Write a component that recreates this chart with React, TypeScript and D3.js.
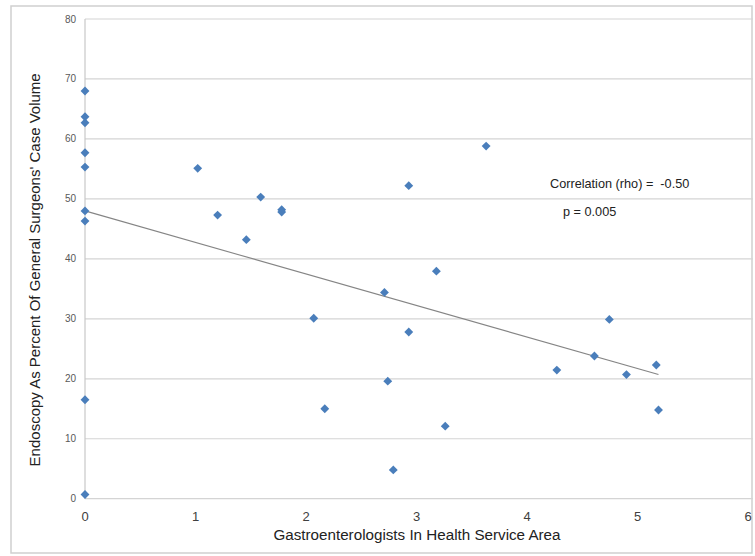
import React from "react";
import * as d3 from "d3";

const xValues = [0, 0, 0, 0, 0, 0, 0, 0, 0, 1.02, 1.2, 1.46, 1.59, 1.78, 1.78, 2.07, 2.17, 2.71, 2.74, 2.79, 2.93, 2.93, 3.18, 3.26, 3.63, 4.27, 4.61, 4.745, 4.9, 5.17, 5.19];
const yValues = [68.0, 63.7, 62.7, 57.7, 55.3, 48.0, 46.3, 16.5, 0.7, 55.1, 47.3, 43.2, 50.3, 48.2, 47.8, 30.1, 15.0, 34.4, 19.6, 4.8, 52.2, 27.8, 37.95, 12.1, 58.8, 21.45, 23.8, 29.9, 20.7, 22.3, 14.8];
const trendX = [0, 5.19];
const trendY = [48.0, 20.7];
const xTicks = [0, 1, 2, 3, 4, 5, 6];
const yTicks = [0, 10, 20, 30, 40, 50, 60, 70, 80];
const xTitle = "Gastroenterologists In Health Service Area";
const yTitle = "Endoscopy As Percent Of General Surgeons' Case Volume";
const annotations = ["Correlation (rho) =\u00A0 -0.50", "p = 0.005"];

export default function App() {
  const W = 755, H = 556;
  const left = 85, right = 748, top = 19, bottom = 498.7;
  const x = d3.scaleLinear().domain([0, 6]).range([left, right]);
  const y = d3.scaleLinear().domain([0, 80]).range([bottom, top]);
  const font = "'Liberation Sans', Arial, sans-serif";
  const trend = d3.line<number>().x((d) => x(trendX[d])).y((d) => y(trendY[d]))(trendX.map((_, i) => i));
  const diamond = d3.symbol().type(d3.symbolDiamond2).size(50)();
  return (
    <svg width={W} height={H} style={{ position: "absolute", left: 0, top: 0, background: "#fff" }} fontFamily={font}>
      <rect x={11} y={6} width={741} height={547} fill="#fff" stroke="#cfcfcf" strokeWidth={1.5} />
      {yTicks.map((t) => (
        <g key={t}>
          <line x1={left} x2={753} y1={y(t)} y2={y(t)} stroke="#d4d4d4" strokeWidth={1.2} />
          <text x={76} y={y(t)} dy="0.35em" textAnchor="end" fontSize={10} fill="#595959">{t}</text>
        </g>
      ))}
      <line x1={left} x2={left} y1={top} y2={bottom} stroke="#c8c8c8" strokeWidth={1.2} />
      {xTicks.map((t) => (
        <text key={t} x={x(t)} y={521} textAnchor="middle" fontSize={13} fill="#404040">{t}</text>
      ))}
      <path d={trend || ""} fill="none" stroke="#858585" strokeWidth={1.1} />
      {xValues.map((xv, i) => (
        <path key={i} d={diamond || ""} transform={`translate(${x(xv)},${y(yValues[i])})`} fill="#4a7ebb" />
      ))}
      <text x={550} y={188} fontSize={12.7} fill="#222">{annotations[0]}</text>
      <text x={563} y={216} fontSize={12.7} fill="#222">{annotations[1]}</text>
      <text x={417} y={540} textAnchor="middle" fontSize={15.2} fill="#222">{xTitle}</text>
      <text transform={`translate(40,${(top + bottom) / 2 + 11}) rotate(-90)`} textAnchor="middle" fontSize={15} fill="#222">{yTitle}</text>
    </svg>
  );
}
